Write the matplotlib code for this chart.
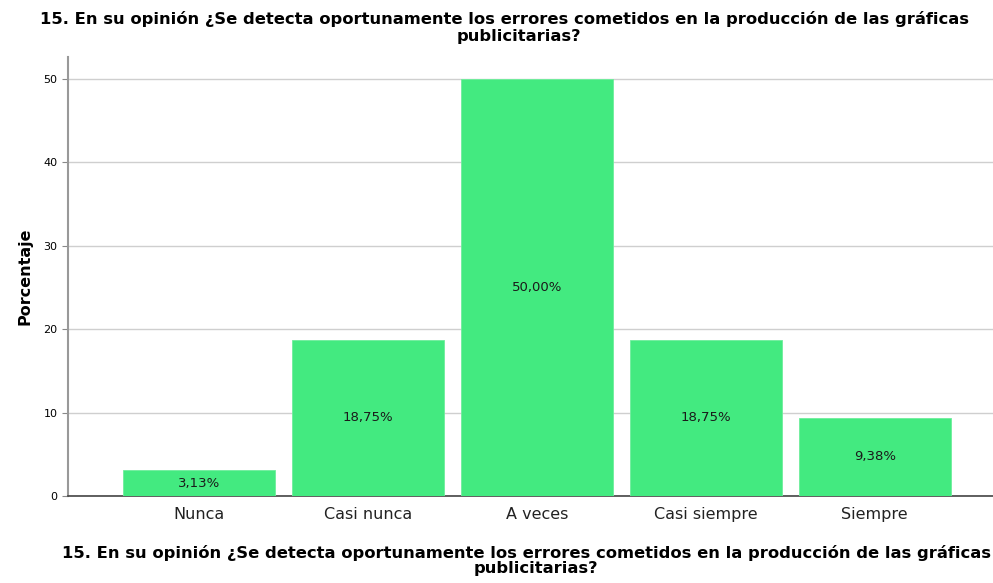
import matplotlib
matplotlib.use('Agg')
import matplotlib.pyplot as plt

plt.rcParams['font.family'] = ['DejaVu Sans']

# Data
categories = ['Nunca', 'Casi nunca', 'A veces', 'Casi siempre', 'Siempre']
percentages = [3.13, 18.75, 50.00, 18.75, 9.38]
labels = ['3,13%', '18,75%', '50,00%', '18,75%', '9,38%']
yticks = [0, 10, 20, 30, 40, 50]

q_line1 = "15. En su opinión ¿Se detecta oportunamente los errores cometidos en la producción de las gráficas"
q_line2 = "publicitarias?"

fig = plt.figure(figsize=(9.93, 5.83), dpi=100, facecolor='white')
ax = fig.add_axes([0.0685, 0.149, 0.9315, 0.753])

x = range(len(categories))
ax.bar(x, percentages, width=0.9, color='#43EA80', edgecolor='#6EEE9C', linewidth=0.6, zorder=3)

for xi, val, lab in zip(x, percentages, labels):
    ax.text(xi, val / 2, lab, ha='center', va='center', fontsize=9.5, color='#1a1a1a', zorder=4)

ax.set_xlim(-0.775, 4.70)
ax.set_ylim(0, 52.6)
ax.set_yticks(yticks)
ax.set_xticks(list(x))
ax.set_xticklabels(categories, fontsize=11.5, color='#222222')
ax.tick_params(axis='y', labelsize=8, length=4, color='#888888', width=0.8)
ax.tick_params(axis='x', length=0, pad=8)

ax.yaxis.grid(True, color='#CFCFCF', linewidth=1.0, zorder=0)
ax.set_axisbelow(True)

for side in ['top', 'right']:
    ax.spines[side].set_visible(False)
ax.spines['left'].set_color('#999999')
ax.spines['left'].set_linewidth(1.5)
ax.spines['bottom'].set_color('#444444')
ax.spines['bottom'].set_linewidth(1.2)

ax.set_ylabel('Porcentaje', fontsize=11.5, fontweight='bold', labelpad=8)

# title (top) and axis title (bottom), each line placed on its own
fig.text(40 / 993, 1 - 19 / 583, q_line1, ha='left', va='center', fontsize=11.75, fontweight='bold')
fig.text(519 / 993, 1 - 36 / 583, q_line2, ha='center', va='center', fontsize=11.75, fontweight='bold')
fig.text(62 / 993, 1 - 553 / 583, q_line1, ha='left', va='center', fontsize=11.75, fontweight='bold')
fig.text(536 / 993, 1 - 569 / 583, q_line2, ha='center', va='center', fontsize=11.75, fontweight='bold')

fig.savefig('out.png', dpi=100, facecolor='white')
